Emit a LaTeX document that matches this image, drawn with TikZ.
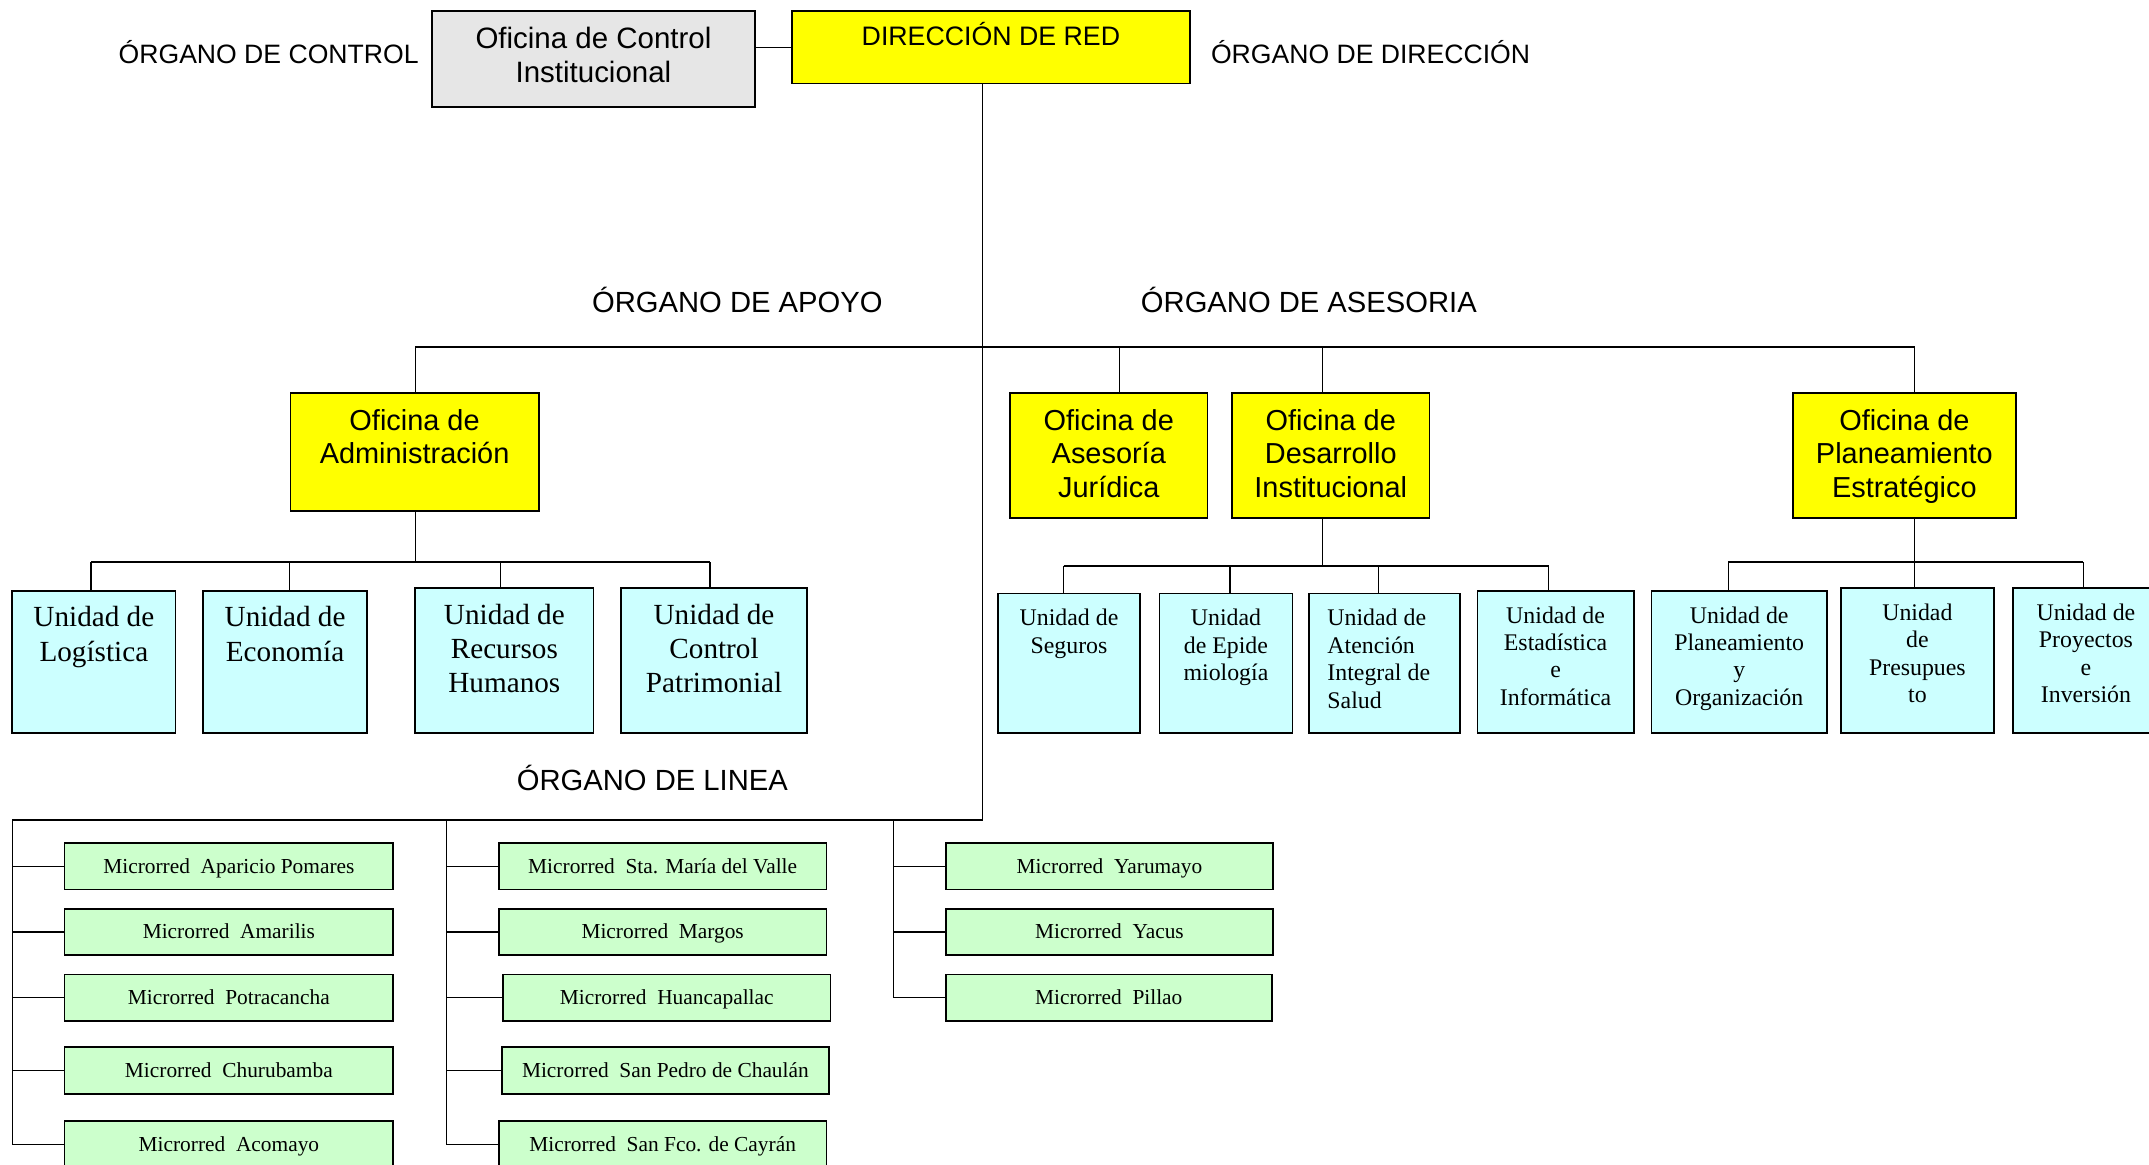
\documentclass[tikz,border=0pt]{standalone}
\usepackage{fontspec}
\setmainfont{Liberation Serif}
\newfontfamily\arialfont{Liberation Sans}
\definecolor{ofiyellow}{HTML}{FFFF00}
\definecolor{unicyan}{HTML}{CCFFFF}
\definecolor{mrgreen}{HTML}{CCFFCC}
\definecolor{ocigray}{HTML}{E6E6E6}
\tikzset{
  box/.style={draw, line width=1.3pt, inner sep=0pt},
  ofi/.style={box, fill=ofiyellow},
  uni/.style={box, fill=unicyan},
  mr/.style={box, fill=mrgreen, minimum width=240, minimum height=34, text height=13.5, text depth=3.5, font=\fontsize{15.6}{18}\selectfont},
  organo/.style={font=\arialfont\fontsize{21.3}{25}\selectfont},
  organotop/.style={font=\arialfont\fontsize{19.4}{23}\selectfont},
  ofitxt/.style={anchor=north, align=center, inner sep=0pt, font=\arialfont\fontsize{21.1}{24.5}\selectfont},
  unitxt/.style={anchor=north, align=center, inner sep=0pt, font=\fontsize{21.3}{25}\selectfont},
  subtxt/.style={anchor=north, align=center, inner sep=0pt, font=\fontsize{17.4}{20}\selectfont},
  link/.style={line width=1pt},
  bus/.style={line width=1.5pt}
}
\begin{document}
\begin{tikzpicture}[x=1pt,y=-1pt]
\useasboundingbox (0,0) rectangle (1568,850);
% organos
\node[organotop] (orgControl) at (196,38) {ÓRGANO DE CONTROL};
\node[organotop] (orgDireccion) at (1000,38) {ÓRGANO DE DIRECCIÓN};
\node[organo] (orgApoyo) at (538,219) {ÓRGANO DE APOYO};
\node[organo] (orgAsesoria) at (955,219) {ÓRGANO DE ASESORIA};
\node[organo] (orgLinea) at (476,568) {ÓRGANO DE LINEA};
% direccion y control
\node[box, fill=ocigray, minimum width=236, minimum height=70] (oci) at (433,43) {};
\node[ofitxt, font=\arialfont\fontsize{21.5}{25}\selectfont] (ociT) at ([yshift=-12]oci.north) {Oficina de Control\\Institucional};
\node[ofi, minimum width=290, minimum height=53] (dir) at (723,34.5) {};
\node[ofitxt, font=\arialfont\fontsize{19.5}{23}\selectfont] (dirT) at ([yshift=-9]dir.north) {DIRECCIÓN DE RED};
% oficinas
\node[ofi, minimum width=181, minimum height=86] (adm) at (302.5,330) {};
\node[ofitxt] (admT) at ([yshift=-12]adm.north) {Oficina de\\Administración};
\node[ofi, minimum width=144, minimum height=91] (jur) at (809,332.5) {};
\node[ofitxt] (jurT) at ([yshift=-12]jur.north) {Oficina de\\Asesoría\\Jurídica};
\node[ofi, minimum width=144, minimum height=91] (des) at (971,332.5) {};
\node[ofitxt] (desT) at ([yshift=-12]des.north) {Oficina de\\Desarrollo\\Institucional};
\node[ofi, minimum width=163, minimum height=91] (pla) at (1389.5,332.5) {};
\node[ofitxt] (plaT) at ([yshift=-12]pla.north) {Oficina de\\Planeamiento\\Estratégico};
% unidades de administracion
\node[uni, minimum width=119, minimum height=104] (log) at (68.5,483) {};
\node[unitxt] (logT) at ([yshift=-12]log.north) {Unidad de\\Logística};
\node[uni, minimum width=120, minimum height=104] (eco) at (208,483) {};
\node[unitxt] (ecoT) at ([yshift=-12]eco.north) {Unidad de\\Economía};
\node[uni, minimum width=130, minimum height=106] (rrhh) at (368,482) {};
\node[unitxt] (rrhhT) at ([yshift=-12]rrhh.north) {Unidad de\\Recursos\\Humanos};
\node[uni, minimum width=136, minimum height=106] (pat) at (521,482) {};
\node[unitxt] (patT) at ([yshift=-12]pat.north) {Unidad de\\Control\\Patrimonial};
% unidades de desarrollo
\node[uni, minimum width=104, minimum height=102] (seg) at (780,484) {};
\node[subtxt] (segT) at ([yshift=-12]seg.north) {Unidad de\\Seguros};
\node[uni, minimum width=97, minimum height=102] (epi) at (894.5,484) {};
\node[subtxt] (epiT) at ([yshift=-12]epi.north) {Unidad\\de Epide\\miología};
\node[uni, minimum width=110, minimum height=102] (ate) at (1010,484) {};
\node[subtxt, anchor=north west, align=left] (ateT) at ([xshift=14,yshift=-12]ate.north west) {Unidad de\\Atención\\Integral de\\Salud};
\node[uni, minimum width=114, minimum height=104] (est) at (1135,483) {};
\node[subtxt] (estT) at ([yshift=-12]est.north) {Unidad de\\Estadística\\e\\Informática};
% unidades de planeamiento
\node[uni, minimum width=128, minimum height=104] (plo) at (1269,483) {};
\node[subtxt] (ploT) at ([yshift=-12]plo.north) {Unidad de\\Planeamiento\\y\\Organización};
\node[uni, minimum width=112, minimum height=106] (pre) at (1399,482) {};
\node[subtxt] (preT) at ([yshift=-12]pre.north) {Unidad\\de\\Presupues\\to};
\node[uni, minimum width=106, minimum height=106] (pro) at (1522,482) {};
\node[subtxt] (proT) at ([yshift=-12]pro.north) {Unidad de\\Proyectos\\e\\Inversión};
% microrredes
\node[mr] (apa) at (167,632) {Microrred~~Aparicio Pomares};
\node[mr] (ama) at (167,680) {Microrred~~Amarilis};
\node[mr] (pot) at (167,728) {Microrred~~Potracancha};
\node[mr] (chu) at (167,781) {Microrred~~Churubamba};
\node[mr] (aco) at (167,835) {Microrred~~Acomayo};
\node[mr, minimum width=239] (sta) at (483.5,632) {Microrred~~Sta. María del Valle};
\node[mr, minimum width=239] (mar) at (483.5,680) {Microrred~~Margos};
\node[mr, minimum width=239] (hua) at (486.5,728) {Microrred~~Huancapallac};
\node[mr, minimum width=239] (spe) at (485.5,781) {Microrred~~San Pedro de Chaulán};
\node[mr, minimum width=239] (sfc) at (483.5,835) {Microrred~~San Fco. de Cayrán};
\node[mr, minimum width=239] (yar) at (809.5,632) {Microrred~~Yarumayo};
\node[mr, minimum width=239] (yac) at (809.5,680) {Microrred~~Yacus};
\node[mr, minimum width=238] (pil) at (809,728) {Microrred~~Pillao};
% lineas
\coordinate (trunk) at (717,598);
\draw[link] (dir.south -| trunk) -- (trunk);
\draw[link] (oci.east |- dir.west) -- (dir.west);
\coordinate (apoyoL) at (303,253);
\coordinate (apoyoR) at (1397,253);
\draw[bus] (apoyoL) -- (apoyoR);
\draw[link] (apoyoL) -- (adm.north -| apoyoL);
\draw[link] ([xshift=8]jur.north) -- ([xshift=8]jur.north |- apoyoL);
\draw[link] ([xshift=-6]des.north) -- ([xshift=-6]des.north |- apoyoL);
\draw[link] (apoyoR) -- (pla.north -| apoyoR);
\coordinate (admBus) at (303,410);
\draw[link] (adm.south -| admBus) -- (admBus);
\draw[bus] ([xshift=-2]log.north |- admBus) -- ([xshift=-3]pat.north |- admBus);
\foreach \u/\d in {log/-2,eco/3,rrhh/-3,pat/-3}
  \draw[link] ([xshift=\d]\u.north) -- ([xshift=\d]\u.north |- admBus);
\coordinate (desBus) at (965,413);
\draw[link] (des.south -| desBus) -- (desBus);
\draw[bus] ([xshift=-4]seg.north |- desBus) -- ([xshift=-5]est.north |- desBus);
\foreach \u/\d in {seg/-4,epi/3,ate/-4,est/-5}
  \draw[link] ([xshift=\d]\u.north) -- ([xshift=\d]\u.north |- desBus);
\coordinate (plaBus) at (1397,410);
\draw[link] (pla.south -| plaBus) -- (pre.north -| plaBus);
\draw[bus] ([xshift=-8]plo.north |- plaBus) -- ([xshift=-2]pro.north |- plaBus);
\foreach \u/\d in {plo/-8,pro/-2}
  \draw[link] ([xshift=\d]\u.north) -- ([xshift=\d]\u.north |- plaBus);
\coordinate (lineaL) at (9,598);
\coordinate (lineaM) at (326,598);
\coordinate (lineaR) at (652,598);
\draw[bus] (lineaL) -- (trunk);
\draw[link] (lineaL) |- (aco.west);
\draw[link] (lineaM) |- (sfc.west);
\draw[link] (lineaR) |- (pil.west);
\foreach \m in {apa,ama,pot,chu}
  \draw[link] (\m.west -| lineaL) -- (\m.west);
\foreach \m in {sta,mar,hua,spe}
  \draw[link] (\m.west -| lineaM) -- (\m.west);
\foreach \m in {yar,yac}
  \draw[link] (\m.west -| lineaR) -- (\m.west);
\end{tikzpicture}
\end{document}
